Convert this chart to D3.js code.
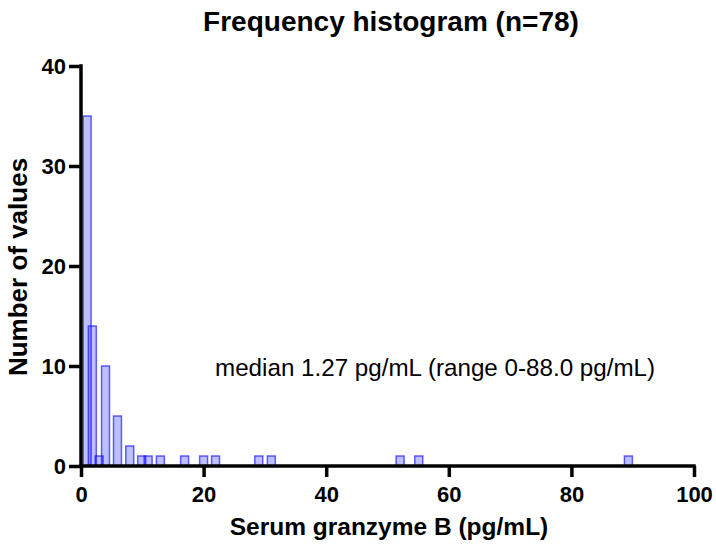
<!DOCTYPE html>
<html lang="en">
<head>
<meta charset="UTF-8" />
<title>Frequency histogram</title>
<script src="https://cdn.jsdelivr.net/npm/d3@7"></script>
<style>
  body { margin: 0; background: #fff; }
  text { font-family: "Liberation Sans", Arial, sans-serif; }
</style>
</head>
<body>
<svg id="vis" width="716" height="550"></svg>
<script>
// bin centres (pg/mL) and counts
var binCentres = [1, 1.85, 2.95, 4, 5.95, 7.95, 9.9, 10.95, 12.95, 16.9, 20, 21.95, 29, 31.05, 52.05, 55.1, 89.3];
var counts     = [35, 14, 1, 10, 5, 2, 1, 1, 1, 1, 1, 1, 1, 1, 1, 1, 1];
var xTicks = [0, 20, 40, 60, 80, 100];
var yTicks = [0, 10, 20, 30, 40];
var binWidth = 1.3;

var svg = d3.select("#vis");
var mLeft = 81, mRight = 694, mTop = 66, mBottom = 466;

var scaleX = d3.scaleLinear().domain([0, 100]).range([mLeft, mRight]);
var scaleY = d3.scaleLinear().domain([0, 40]).range([mBottom, mTop]);

// bars
var gBars = svg.append("g");
for (var i = 0; i < counts.length; i++) {
  var x0 = scaleX(binCentres[i] - binWidth / 2);
  var x1 = scaleX(binCentres[i] + binWidth / 2);
  gBars.append("rect")
    .attr("x", x0)
    .attr("y", scaleY(counts[i]))
    .attr("width", x1 - x0)
    .attr("height", scaleY(0) - scaleY(counts[i]))
    .attr("fill", "rgba(0,0,255,0.25)")
    .attr("stroke", "rgba(0,0,255,0.6)")
    .attr("stroke-width", 1.5);
}

// axes
var xAxis = d3.axisBottom(scaleX).tickValues(xTicks).tickSize(11).tickPadding(9).tickSizeOuter(0);
var yAxis = d3.axisLeft(scaleY).tickValues(yTicks).tickSize(12).tickPadding(3).tickSizeOuter(0);

var gx = svg.append("g").attr("transform", "translate(0," + mBottom + ")").call(xAxis);
var gy = svg.append("g").attr("transform", "translate(" + mLeft + ",0)").call(yAxis);

[gx, gy].forEach(function (g) {
  g.select(".domain").attr("stroke", "#000").attr("stroke-width", 3.5);
  g.selectAll(".tick line").attr("stroke", "#000").attr("stroke-width", 3.5);
  g.selectAll(".tick text")
    .attr("fill", "#000")
    .style("font-size", "22px")
    .style("font-weight", "bold");
});
// extend the domains so the corners meet
gx.select(".domain").attr("d", "M" + (mLeft - 1.75) + ",0H" + (mRight + 1.75));
gy.select(".domain").attr("d", "M0," + (mTop - 1.75) + "V" + (mBottom + 1.75));

// titles
svg.append("text")
  .attr("x", 391).attr("y", 31)
  .attr("text-anchor", "middle")
  .style("font-size", "28px").style("font-weight", "bold")
  .text("Frequency histogram (n=78)");

svg.append("text")
  .attr("x", 389).attr("y", 535)
  .attr("text-anchor", "middle")
  .style("font-size", "24.5px").style("font-weight", "bold")
  .text("Serum granzyme B (pg/mL)");

svg.append("text")
  .attr("transform", "translate(27,267) rotate(-90)")
  .attr("text-anchor", "middle")
  .style("font-size", "26px").style("font-weight", "bold")
  .text("Number of values");

svg.append("text")
  .attr("x", 215).attr("y", 376)
  .style("font-size", "24.2px")
  .text("median 1.27 pg/mL (range 0-88.0 pg/mL)");
</script>
</body>
</html>
